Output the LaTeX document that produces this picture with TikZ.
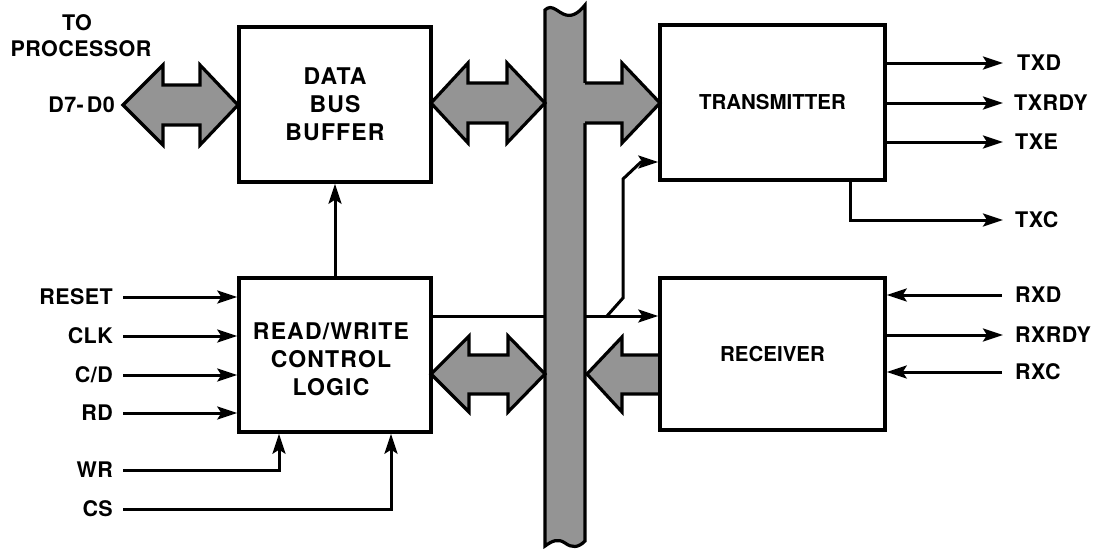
\documentclass[tikz,border=0pt]{standalone}
\usepackage{fontspec}
\setmainfont{TeX Gyre Heros}
\newfontfamily\boxfont[LetterSpace=5]{TeX Gyre Heros}
\newfontfamily\lblfont[LetterSpace=2]{TeX Gyre Heros}
\usetikzlibrary{arrows.meta}
\begin{document}
\begin{tikzpicture}[x=1pt,y=-1pt,
  box/.style={draw, line width=3.4pt, align=center, inner sep=0pt,
    font=\fontsize{20.5}{27}\selectfont\bfseries},
  widetext/.style={font=\fontsize{23}{28}\boxfont\bfseries},
  sig/.style={line width=3pt, -{Stealth[length=20pt,width=13pt,inset=4pt]}},
  plain/.style={line width=3pt},
  lbl/.style={inner sep=0pt, text height=15.5pt, text depth=0pt,
    font=\fontsize{21.5}{24}\lblfont\bfseries},
  fat/.style={fill=black!42, draw=black, line width=3.2pt, line join=miter},
  fatfill/.style={fill=black!42, draw=none},
  fatline/.style={draw=black, line width=3.2pt, line join=miter}]
\useasboundingbox (0,0) rectangle (1094,550);

% system bus
\draw[fat] (545,10) .. controls (552,3) and (558,13) .. (566,15)
  .. controls (574,17) and (580,11) .. (585,5) -- (585,541)
  .. controls (578,548) and (572,548) .. (565,543)
  .. controls (558,538) and (552,541) .. (545,546) -- cycle;
\coordinate (busW) at (545,316);
\coordinate (busE) at (585,316);

% wide bus arrows
\draw[fat] (123,105) -- (163,65) -- (163,85) -- (200,85) -- (200,65) -- (238,105)
  -- (200,145) -- (200,125) -- (163,125) -- (163,145) -- cycle;
\draw[fat] (431,103) -- (468,63) -- (468,83) -- (507,83) -- (507,63) -- (545,103)
  -- (507,143) -- (507,123) -- (468,123) -- (468,143) -- cycle;
\fill[fatfill] (580,83) -- (622,83) -- (622,63) -- (660,103) -- (622,143)
  -- (622,123) -- (580,123) -- cycle;
\draw[fatline] (585,83) -- (622,83) -- (622,63) -- (660,103) -- (622,143)
  -- (622,123) -- (585,123);
\draw[fat] (431,374) -- (469,336) -- (469,355) -- (508,355) -- (508,336) -- (545,374)
  -- (508,412) -- (508,394) -- (469,394) -- (469,412) -- cycle;
\draw[fat] (587,374) -- (622,337) -- (622,355) -- (660,355) -- (660,394)
  -- (622,394) -- (622,412) -- cycle;

% blocks
\node[box, widetext, minimum width=192pt, minimum height=155pt] (dbb) at (335,104.5) {DATA\\BUS\\BUFFER};
\node[box, widetext, minimum width=192pt, minimum height=154pt] (rw) at (335,355) {};
\node[widetext, align=center, inner sep=0pt] (rwtext) at (331,359) {READ/WRITE\\CONTROL\\LOGIC};
\node[box, minimum width=225pt, minimum height=155pt] (tx) at (772.5,102.5) {TRANSMITTER};
\node[box, minimum width=225pt, minimum height=152pt] (rx) at (772.5,354) {RECEIVER};

% internal connections
\draw[sig] (rw.north) -- (rw.north |- dbb.south);
\draw[plain] (busW -| rw.east) -- (busW);
\draw[sig] (busE) -- (busE -| rx.west);
\coordinate (br) at (607,316);
\coordinate (txin) at (641,162);
\draw[sig] (br) -- (623,298) -- (623,179) -- (txin) -- (txin -| tx.west);

% processor side labels
\node[lbl] (lto) at (77,23) {TO};
\node[lbl] (lproc) at (81,49) {PROCESSOR};
\node[lbl, anchor=east] (ld) at (115,105) {D7-\hspace{3pt}D0};

% control inputs
\node[lbl, anchor=east] (lreset) at (113,297) {RESET};
\node[lbl, anchor=east] (lclk) at (113,336) {CLK};
\node[lbl, anchor=east] (lcd) at (113,375) {C/D};
\node[lbl, anchor=east] (lrd) at (113,413) {RD};
\node[lbl, anchor=east] (lwr) at (113,470) {WR};
\node[lbl, anchor=east] (lcs) at (113,509) {CS};
\foreach \n in {lreset,lclk,lcd,lrd}
  \draw[sig] ([xshift=10pt]\n.east) -- (\n -| rw.west);
\draw[sig] ([xshift=10pt]lwr.east) -| ([xshift=-56pt]rw.south);
\draw[sig] ([xshift=10pt]lcs.east) -| ([xshift=56pt]rw.south);

% serial side
\node[lbl, anchor=west] (ltxd) at (1017,63) {TXD};
\node[lbl, anchor=west] (ltxrdy) at (1014,103) {TXRDY};
\node[lbl, anchor=west] (ltxe) at (1015,142) {TXE};
\node[lbl, anchor=west] (ltxc) at (1015,220) {TXC};
\node[lbl, anchor=west] (lrxd) at (1015,295) {RXD};
\node[lbl, anchor=west] (lrxrdy) at (1015,335) {RXRDY};
\node[lbl, anchor=west] (lrxc) at (1015,372) {RXC};
\draw[sig] (ltxd -| tx.east) -- ([xshift=-14pt]ltxd.west);
\draw[sig] (ltxrdy -| tx.east) -- ([xshift=-11pt]ltxrdy.west);
\draw[sig] (ltxe -| tx.east) -- ([xshift=-12pt]ltxe.west);
\draw[sig] ([xshift=78pt]tx.south) |- ([xshift=-12pt]ltxc.west);
\draw[sig] ([xshift=-13pt]lrxd.west) -- (lrxd -| rx.east);
\draw[sig] (lrxrdy -| rx.east) -- ([xshift=-12pt]lrxrdy.west);
\draw[sig] ([xshift=-13pt]lrxc.west) -- (lrxc -| rx.east);
\end{tikzpicture}
\end{document}
